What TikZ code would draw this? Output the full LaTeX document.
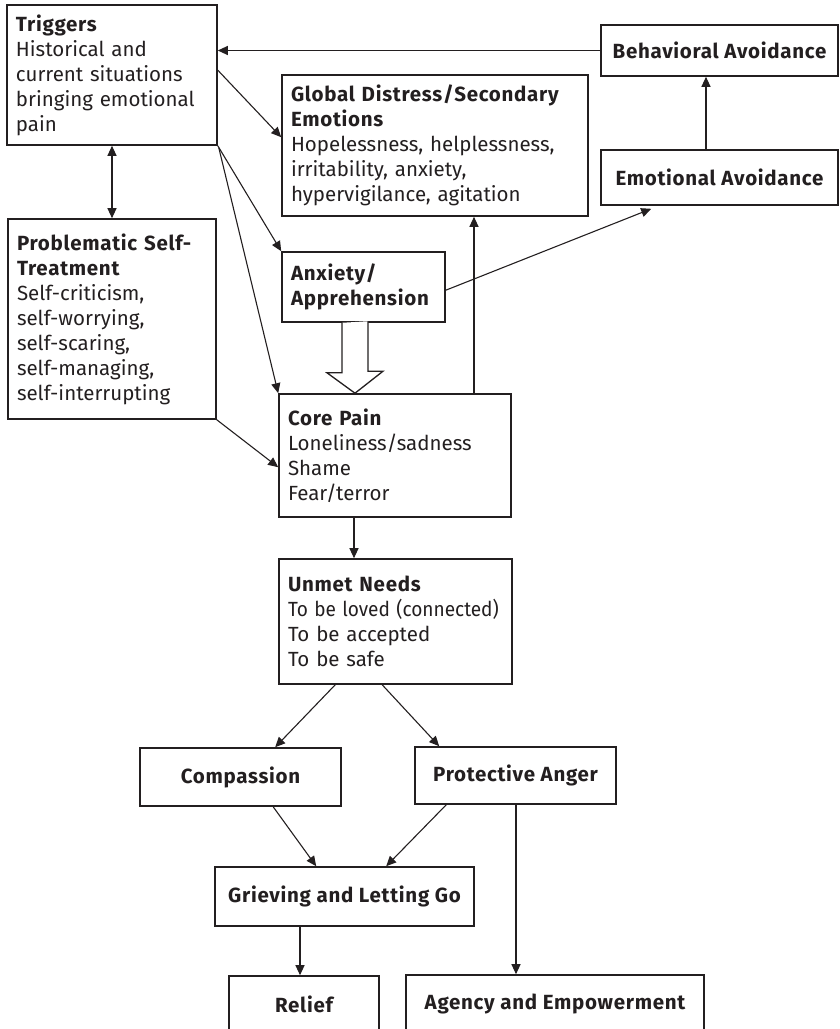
\documentclass[tikz,border=0pt]{standalone}
\usepackage{fontspec}
\setmainfont{Fira Sans}[BoldFeatures={LetterSpace=3.5}]
\usetikzlibrary{arrows.meta,calc}
\definecolor{ink}{HTML}{231F20}
\begin{document}
\begin{tikzpicture}[x=1pt,y=-1pt,
  box/.style={draw=ink, line width=1.6pt, text=ink, inner xsep=9pt, inner ysep=0pt,
    font=\fontsize{20.5}{25}\selectfont},
  lbox/.style={box, align=left},
  cbox/.style={box, align=center, font=\bfseries\fontsize{20.5}{25}\selectfont},
  arr/.style={draw=ink, line width=1.1pt, -{Triangle[length=10pt,width=9pt]}},
  darr/.style={draw=ink, line width=1.1pt, {Triangle[length=10pt,width=9pt]}-{Triangle[length=10pt,width=9pt]}},
  hollow/.style={draw=ink, line width=1.3pt, fill=white, line join=miter},
]
\useasboundingbox (0,0) rectangle (839,1029);
\clip (0,0) rectangle (839,1029);

\node[lbox, text width=192pt, minimum height=140pt] (tr) at (112,75)
  {\textbf{Triggers}\\Historical and\\current situations\\bringing emotional\\pain};
\node[lbox, text width=288pt, minimum height=141pt] (gd) at (435,145.5)
  {\textbf{Global Distress/Secondary}\\\textbf{Emotions}\\Hopelessness, helplessness,\\irritability, anxiety,\\hypervigilance, agitation};
\node[cbox, minimum width=237pt, minimum height=51pt] (beh) at (719.5,50.5) {Behavioral Avoidance};
\node[cbox, minimum width=237pt, minimum height=55pt] (emo) at (719.5,177.5) {Emotional Avoidance};
\node[lbox, text width=190pt, minimum height=200pt] (ps) at (112,319)
  {\textbf{Problematic Self-}\\\textbf{Treatment}\\Self-criticism,\\self-worrying,\\self-scaring,\\self-managing,\\self-interrupting};
\node[lbox, text width=145pt, minimum height=70pt] (anx) at (363.5,287)
  {\textbf{Anxiety/}\\\textbf{Apprehension}};
\node[lbox, text width=214pt, minimum height=123pt] (core) at (395,455.5)
  {\textbf{Core Pain}\\Loneliness/sadness\\Shame\\Fear/terror};
\node[lbox, text width=215pt, minimum height=125pt] (un) at (395.5,621.5)
  {\textbf{Unmet Needs}\\\scalebox{0.93}[1]{To be loved (connected)}\\To be accepted\\To be safe};
\node[cbox, minimum width=201pt, minimum height=58pt] (comp) at (240.5,777) {Compassion};
\node[cbox, minimum width=201pt, minimum height=57pt] (prot) at (515.5,775.5) {Protective Anger};
\node[cbox, minimum width=259pt, minimum height=59pt] (gr) at (344.5,896.5) {Grieving and Letting Go};
\node[cbox, minimum width=150pt, minimum height=56pt] (rel) at (304,1004) {Relief};
\node[cbox, minimum width=298pt, minimum height=58pt] (ag) at (555,1004) {Agency and Empowerment};

% connectors
\draw[arr] (beh.west) -- (beh.west -| tr.east);
\draw[arr] ($(tr.north east)+(0,66)$) -- ($(gd.north west)+(0,63)$);
\draw[arr] (tr.south east) -- (anx.north west);
\draw[arr] ($(tr.south east)+(1,2)$) -- (core.north west);
\draw[darr] (tr.south) -- (ps.north);
\draw[arr] (ps.south east) -- ($(core.north west)+(0,74)$);
\draw[arr] ($(anx.north east)+(0,39)$) -- ($(emo.south west)+(51,3)$);
\coordinate (xg) at (474,0);
\draw[arr] (xg |- core.north) -- (xg |- gd.south);
\coordinate (xe) at (706,0);
\draw[arr] (xe |- emo.north) -- (xe |- beh.south);
\coordinate (xh) at (355,0);
\draw[hollow] ($(xh |- anx.south)+(-13,0)$) -- ++(0,50) -- ++(-15,0) -- (xh |- core.north)
  -- ++(28,-22) -- ++(-15,0) -- ++(0,-50);
\coordinate (xc) at (354,0);
\draw[arr] (xc |- core.south) -- (xc |- un.north);
\draw[arr] ($(un.south west)+(57,0)$) -- ($(comp.north west)+(136,0)$);
\draw[arr] ($(un.south west)+(104,0)$) -- ($(prot.north west)+(25,0)$);
\draw[arr] ($(comp.south west)+(134,0)$) -- ($(gr.north west)+(102,0)$);
\draw[arr] ($(prot.south west)+(32,0)$) -- ($(gr.north west)+(172,0)$);
\coordinate (xr) at (300,0);
\draw[arr] (xr |- gr.south) -- (xr |- rel.north);
\coordinate (xa) at (516,0);
\draw[arr] (xa |- prot.south) -- (xa |- ag.north);
\end{tikzpicture}
\end{document}
